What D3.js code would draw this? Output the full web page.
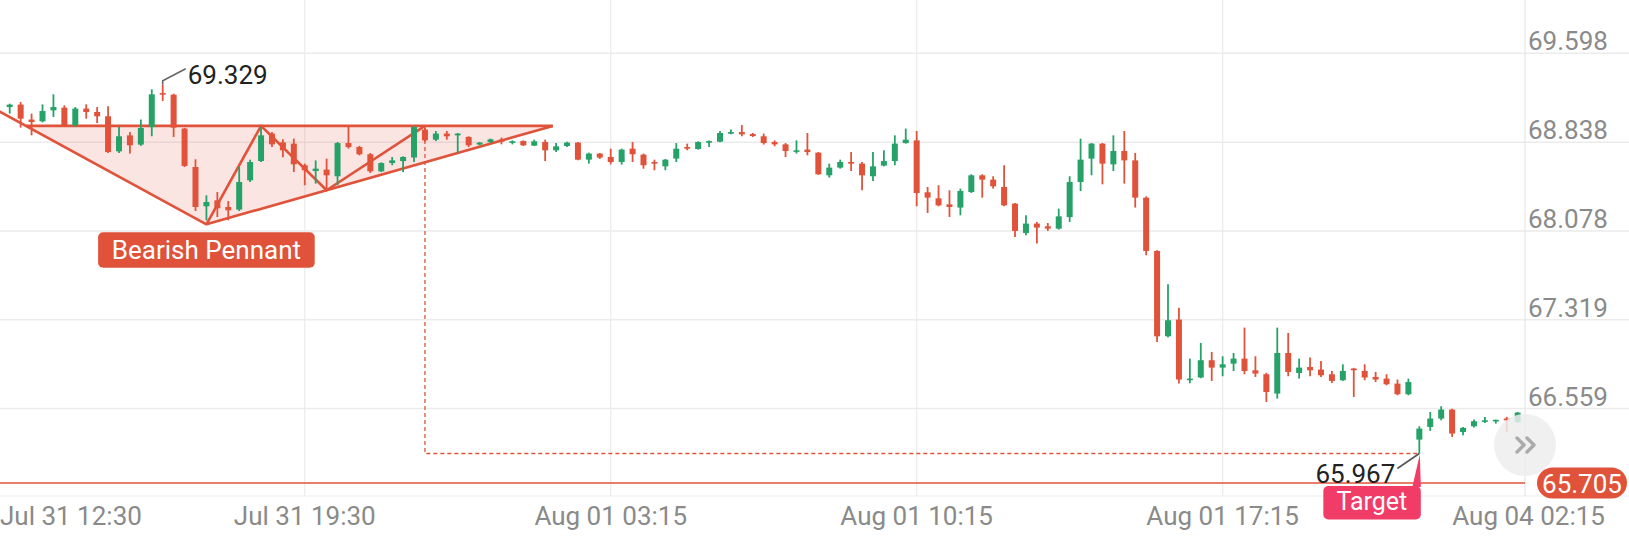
<!DOCTYPE html>
<html lang="en">
<head>
<meta charset="UTF-8">
<title>Bearish Pennant</title>
<script src="https://cdn.jsdelivr.net/npm/d3@7"></script>
<style>
  html, body { margin: 0; padding: 0; background: #fff; }
  svg { display: block; font-family: Roboto, "Noto Sans", sans-serif; }
</style>
</head>
<body>
<svg id="chart" width="1629" height="539"></svg>
<script>
// price axis ticks and time axis ticks (bar index -> label)
var priceTicks = [69.598, 68.838, 68.078, 67.319, 66.559];
var timeTickBars = [0, 28, 56, 84, 112, 140];
var timeTickLabels = ["Jul 31 12:30", "Jul 31 19:30", "Aug 01 03:15", "Aug 01 10:15", "Aug 01 17:15", "Aug 04 02:15"];

// 15 minute candles, bar 1 .. 139
var firstBar = 1;
var open = [
  69.138, 69.159, 69.031, 69.016, 69.110, 69.133, 68.982, 69.125, 69.096, 69.059,
  68.759, 68.896, 68.817, 68.967, 69.258, 69.244, 68.954, 68.625, 68.289, 68.340,
  68.283, 68.261, 68.511, 68.676, 68.911, 68.836, 68.825, 68.640, 68.591, 68.603,
  68.546, 68.830, 68.796, 68.734, 68.588, 68.659, 68.676, 68.706, 68.945, 68.859,
  68.911, 68.896, 68.882, 68.817, 68.839, 68.859, 68.836, 68.847, 68.808, 68.839,
  68.768, 68.805, 68.834, 68.688, 68.740, 68.711, 68.668, 68.782, 68.731, 68.668,
  68.631, 68.697, 68.796, 68.779, 68.836, 68.842, 68.916, 68.924, 68.907, 68.888,
  68.839, 68.819, 68.759, 68.774, 68.748, 68.554, 68.620, 68.668, 68.654, 68.546,
  68.637, 68.676, 68.830, 68.853, 68.409, 68.357, 68.306, 68.278, 68.411, 68.554,
  68.517, 68.454, 68.312, 68.061, 68.141, 68.118, 68.098, 68.197, 68.497, 68.697,
  68.825, 68.648, 68.762, 68.682, 68.363, 67.907, 67.177, 67.320, 66.801, 66.824,
  66.972, 66.909, 66.943, 66.986, 66.886, 66.852, 66.687, 67.034, 66.863, 66.914,
  66.892, 66.852, 66.801, 66.901, 66.880, 66.829, 66.815, 66.772, 66.681, 66.293,
  66.401, 66.473, 66.550, 66.358, 66.407, 66.452, 66.452, 66.473, 66.444
];
var high = [
  69.167, 69.181, 69.082, 69.161, 69.247, 69.153, 69.138, 69.161, 69.138, 69.144,
  68.967, 68.924, 69.031, 69.290, 69.329, 69.253, 68.960, 68.691, 68.383, 68.411,
  68.334, 68.625, 68.688, 68.967, 68.924, 68.862, 68.868, 68.654, 68.682, 68.697,
  68.839, 68.973, 68.806, 68.745, 68.665, 68.711, 68.717, 68.973, 68.962, 68.933,
  68.933, 68.916, 68.888, 68.839, 68.868, 68.877, 68.853, 68.853, 68.859, 68.859,
  68.830, 68.842, 68.839, 68.748, 68.745, 68.782, 68.782, 68.839, 68.740, 68.688,
  68.694, 68.830, 68.825, 68.845, 68.853, 68.933, 68.945, 68.984, 68.916, 68.911,
  68.853, 68.830, 68.853, 68.916, 68.753, 68.654, 68.688, 68.753, 68.668, 68.753,
  68.768, 68.896, 68.954, 68.933, 68.454, 68.469, 68.426, 68.440, 68.563, 68.563,
  68.546, 68.640, 68.317, 68.212, 68.155, 68.146, 68.269, 68.546, 68.868, 68.830,
  68.830, 68.896, 68.933, 68.745, 68.374, 67.913, 67.622, 67.422, 66.986, 67.120,
  67.043, 67.006, 67.034, 67.251, 67.006, 66.865, 67.251, 67.205, 66.986, 66.995,
  66.966, 66.880, 66.937, 66.907, 66.937, 66.872, 66.852, 66.807, 66.815, 66.407,
  66.529, 66.578, 66.557, 66.401, 66.464, 66.487, 66.464, 66.487, 66.529
];
var low = [
  69.082, 68.962, 68.896, 69.007, 69.053, 68.967, 68.967, 69.039, 69.001, 68.745,
  68.745, 68.740, 68.806, 68.888, 69.190, 68.882, 68.625, 68.249, 68.169, 68.197,
  68.169, 68.249, 68.497, 68.668, 68.796, 68.708, 68.582, 68.469, 68.483, 68.440,
  68.469, 68.782, 68.725, 68.574, 68.582, 68.640, 68.582, 68.668, 68.839, 68.847,
  68.859, 68.745, 68.796, 68.811, 68.830, 68.819, 68.819, 68.805, 68.805, 68.676,
  68.753, 68.796, 68.682, 68.654, 68.694, 68.648, 68.646, 68.668, 68.611, 68.597,
  68.597, 68.668, 68.768, 68.774, 68.796, 68.836, 68.905, 68.888, 68.882, 68.817,
  68.802, 68.711, 68.740, 68.725, 68.558, 68.534, 68.611, 68.591, 68.426, 68.505,
  68.631, 68.640, 68.825, 68.289, 68.232, 68.289, 68.197, 68.212, 68.403, 68.363,
  68.440, 68.289, 68.026, 68.041, 67.970, 68.078, 68.090, 68.155, 68.420, 68.554,
  68.477, 68.591, 68.483, 68.278, 67.870, 67.128, 67.168, 66.772, 66.775, 66.818,
  66.795, 66.835, 66.880, 66.852, 66.829, 66.615, 66.644, 66.835, 66.815, 66.835,
  66.829, 66.777, 66.795, 66.658, 66.801, 66.786, 66.758, 66.672, 66.672, 66.174,
  66.367, 66.458, 66.316, 66.330, 66.396, 66.435, 66.430, 66.358, 66.435
];
var close = [
  69.159, 69.039, 69.010, 69.104, 69.138, 68.982, 69.125, 69.096, 69.059, 68.753,
  68.888, 68.811, 68.959, 69.247, 69.247, 68.962, 68.634, 68.283, 68.326, 68.272,
  68.255, 68.497, 68.668, 68.896, 68.819, 68.768, 68.648, 68.597, 68.611, 68.554,
  68.830, 68.796, 68.734, 68.588, 68.659, 68.682, 68.711, 68.967, 68.853, 68.911,
  68.888, 68.911, 68.811, 68.834, 68.862, 68.842, 68.845, 68.811, 68.845, 68.768,
  68.802, 68.834, 68.688, 68.740, 68.706, 68.668, 68.774, 68.734, 68.640, 68.654,
  68.688, 68.782, 68.782, 68.839, 68.847, 68.916, 68.924, 68.905, 68.890, 68.830,
  68.819, 68.762, 68.768, 68.753, 68.563, 68.620, 68.668, 68.654, 68.554, 68.631,
  68.676, 68.825, 68.859, 68.403, 68.363, 68.297, 68.283, 68.420, 68.554, 68.517,
  68.460, 68.297, 68.078, 68.141, 68.107, 68.098, 68.203, 68.497, 68.688, 68.825,
  68.654, 68.762, 68.682, 68.363, 67.907, 67.177, 67.314, 66.807, 66.815, 66.972,
  66.909, 66.937, 66.986, 66.880, 66.858, 66.700, 67.034, 66.872, 66.909, 66.886,
  66.843, 66.795, 66.880, 66.886, 66.824, 66.807, 66.766, 66.681, 66.786, 66.387,
  66.473, 66.550, 66.345, 66.393, 66.450, 66.458, 66.462, 66.458, 66.524
];

// annotations
var lastPrice = 65.705;
var highMark = { bar: 15, value: 69.329, text: "69.329" };
var pennantStart = [0, 69.104];      // [bar, price]
var pennantLow = [19, 68.135];
var pennantTop = 68.977;
var pennantApex = [50.7, 68.977];
var pennantZigzag = [[19, 68.135], [24, 68.977], [30, 68.426], [39, 68.977]];
var pennantText = "Bearish Pennant";
var breakoutBar = 39;
var targetBar = 130;
var targetLevel = 66.174;
var targetValueText = "65.967";
var targetText = "Target";

var RED = "#e0533a", GREEN = "#26a269", PINK = "#f03c66";

var svg = d3.select("#chart"),
    W = +svg.attr("width"),
    H = +svg.attr("height"),
    plotRight = 1525,
    plotBottom = 496;

var x = d3.scaleLinear().domain([0, 140]).range([-1.2, 1528.6]);
var y = d3.scaleLinear().domain([66.559, 69.598]).range([408.5, 53.3]);

svg.append("defs").append("clipPath").attr("id", "plotclip")
    .append("rect").attr("x", 0).attr("y", 0).attr("width", plotRight).attr("height", plotBottom);

// grid
var grid = svg.append("g");
grid.selectAll(".hgrid").data(priceTicks).enter().append("line")
    .attr("x1", 0).attr("x2", W)
    .attr("y1", d => y(d)).attr("y2", d => y(d))
    .attr("stroke", "#ebebeb").attr("stroke-width", 1.5);
grid.selectAll(".vgrid").data(timeTickBars.slice(1, -1)).enter().append("line")
    .attr("x1", d => x(d)).attr("x2", d => x(d))
    .attr("y1", 0).attr("y2", plotBottom)
    .attr("stroke", "#ebebeb").attr("stroke-width", 1.2);
grid.append("line").attr("x1", plotRight).attr("x2", plotRight).attr("y1", 0).attr("y2", plotBottom)
    .attr("stroke", "#e6e6e6").attr("stroke-width", 1.2);
grid.append("line").attr("x1", 0).attr("x2", W).attr("y1", plotBottom).attr("y2", plotBottom)
    .attr("stroke", "#ededed").attr("stroke-width", 1.2);

var plot = svg.append("g").attr("clip-path", "url(#plotclip)");

// pennant
var slope = (pennantLow[1] - pennantStart[1]) / (pennantLow[0] - pennantStart[0]);
var topStartBar = pennantStart[0] + (pennantTop - pennantStart[1]) / slope;
var line = d3.line().x(d => x(d[0])).y(d => y(d[1]));

plot.append("path")
    .attr("d", line([[topStartBar, pennantTop], pennantLow, pennantApex]) + "Z")
    .attr("fill", RED).attr("fill-opacity", 0.15);

var pennantPaths = [
  [pennantStart, pennantLow, pennantApex],
  [[topStartBar, pennantTop], pennantApex],
  pennantZigzag
];
plot.selectAll(".pennant").data(pennantPaths).enter().append("path")
    .attr("d", line)
    .attr("fill", "none").attr("stroke", RED).attr("stroke-width", 2.6)
    .attr("stroke-linejoin", "round");

// measured move
plot.append("path")
    .attr("d", line([[breakoutBar, pennantTop], [breakoutBar, targetLevel], [targetBar, targetLevel]]))
    .attr("fill", "none").attr("stroke", RED).attr("stroke-width", 1.3)
    .attr("stroke-dasharray", "4,3");

// candles
var candles = open.map((o, i) => ({ bar: firstBar + i, o: o, h: high[i], l: low[i], c: close[i] }));
var cg = plot.selectAll(".candle").data(candles).enter().append("g");
cg.append("line")
    .attr("x1", d => x(d.bar)).attr("x2", d => x(d.bar))
    .attr("y1", d => y(d.h)).attr("y2", d => y(d.l))
    .attr("stroke", d => d.c >= d.o ? GREEN : RED).attr("stroke-width", 1.8);
cg.append("rect")
    .attr("x", d => x(d.bar) - 3).attr("width", 6)
    .attr("y", d => y(Math.max(d.o, d.c)))
    .attr("height", d => Math.max(1.6, Math.abs(y(d.o) - y(d.c))))
    .attr("fill", d => d.c >= d.o ? GREEN : RED);

// high label
var hx = x(highMark.bar), hy = y(highMark.value);
svg.append("path")
    .attr("d", `M${hx},${hy}L${hx},${hy - 4}L${hx + 23},${hy - 16}`)
    .attr("fill", "none").attr("stroke", "#666").attr("stroke-width", 1.6);
svg.append("text").attr("x", hx + 25).attr("y", hy - 1)
    .attr("font-size", 26).attr("fill", "#222").text(highMark.text);

// pennant tag
var px = x(pennantLow[0]), py = y(pennantLow[1]) + 8;
svg.append("rect").attr("x", px - 108.3).attr("y", py).attr("width", 216.6).attr("height", 35.5)
    .attr("rx", 5).attr("fill", RED);
svg.append("text").attr("x", px).attr("y", py + 26.5).attr("text-anchor", "middle")
    .attr("font-size", 26).attr("fill", "#fff").text(pennantText);

// last price line (pinned to the bottom of the plot)
var lp = Math.min(y(lastPrice), plotBottom - 13);
svg.append("line").attr("x1", 0).attr("x2", plotRight).attr("y1", lp).attr("y2", lp)
    .attr("stroke", RED).attr("stroke-width", 1.5);

// scroll button
svg.append("circle").attr("cx", plotRight).attr("cy", 445).attr("r", 31)
    .attr("fill", "#ededed").attr("fill-opacity", 0.85);
svg.append("path")
    .attr("d", "M1517,438L1524,445L1517,452M1527,438L1534,445L1527,452")
    .attr("fill", "none").attr("stroke", "#ababab").attr("stroke-width", 3.4)
    .attr("stroke-linecap", "round").attr("stroke-linejoin", "round");

// y axis labels
svg.selectAll(".ylab").data(priceTicks).enter().append("text")
    .attr("x", plotRight + 3).attr("y", d => y(d) - 3)
    .attr("font-size", 26).attr("fill", "#8a8a8a")
    .text(d => d3.format(".3f")(d));

// last price pill
svg.append("rect").attr("x", 1537).attr("y", lp - 15.5).attr("width", 90).attr("height", 31)
    .attr("rx", 15.5).attr("fill", RED);
svg.append("text").attr("x", 1582).attr("y", lp + 9.5).attr("text-anchor", "middle")
    .attr("font-size", 26).attr("fill", "#fff").text(d3.format(".3f")(lastPrice));

// x axis labels
svg.selectAll(".xlab").data(timeTickBars).enter().append("text")
    .attr("y", 525).attr("font-size", 26).attr("fill", "#8a8a8a")
    .attr("text-anchor", "start")
    .text((d, i) => timeTickLabels[i])
    .attr("x", function(d) {
        var w = this.getComputedTextLength();
        return Math.max(0, Math.min(W - w, x(d) - w / 2));
    });

// target callout
var tx = x(targetBar), ty = y(targetLevel);
svg.append("path")
    .attr("d", `M${tx},${ty}L${tx - 22},${ty + 15}`)
    .attr("stroke", "#555").attr("stroke-width", 1.6);
svg.append("text").attr("x", tx - 24).attr("y", ty + 30).attr("text-anchor", "end")
    .attr("font-size", 26).attr("fill", "#222").text(targetValueText);
svg.append("rect").attr("x", tx - 96).attr("y", 486).attr("width", 97.5).attr("height", 33.5)
    .attr("rx", 5).attr("fill", PINK);
svg.append("path")
    .attr("d", `M${tx - 7},${487}L${tx + 1.5},${487}L${tx + 0.5},${ty + 1}Z`)
    .attr("fill", PINK);
svg.append("text").attr("x", tx - 47.5).attr("y", 509.5).attr("text-anchor", "middle")
    .attr("font-size", 25).attr("fill", "#fff").text(targetText);
</script>
</body>
</html>
